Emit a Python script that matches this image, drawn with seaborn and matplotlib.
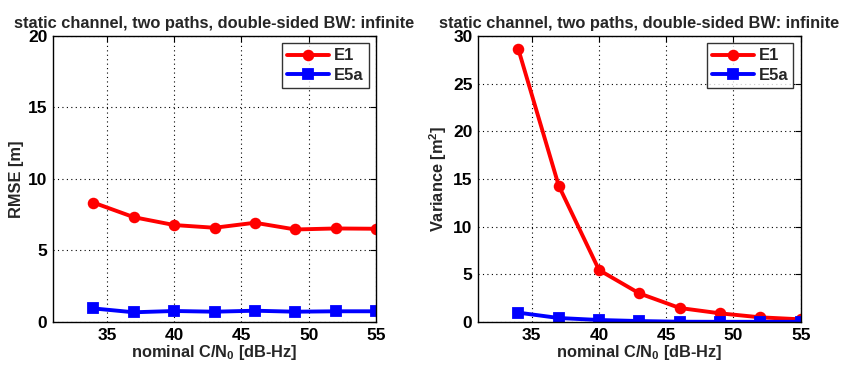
import matplotlib
matplotlib.use("Agg")
import matplotlib.pyplot as plt
import seaborn as sns
import pandas as pd

# Nominal carrier-to-noise density ratios [dB-Hz]
cn0 = [34, 37, 40, 43, 46, 49, 52, 55]

# RMSE of the code delay estimate [m]
rmse_e1 = [8.35, 7.33, 6.78, 6.59, 6.94, 6.47, 6.54, 6.52]
rmse_e5a = [0.95, 0.68, 0.77, 0.72, 0.79, 0.72, 0.75, 0.75]

# Variance of the estimate [m^2]
var_e1 = [28.6, 14.3, 5.45, 3.0, 1.47, 0.91, 0.49, 0.28]
var_e5a = [0.98, 0.42, 0.21, 0.10, 0.03, 0.02, 0.02, 0.02]

title = "static channel, two paths, double-sided BW: infinite"
xlabel = r"nominal C/N$_\mathbf{0}$ [dB-Hz]"

sns.set_theme(style="white")
plt.rcParams["font.family"] = ["Liberation Sans", "DejaVu Sans"]
plt.rcParams["font.weight"] = "bold"
plt.rcParams["mathtext.fontset"] = "custom"
plt.rcParams["mathtext.rm"] = "Liberation Sans:bold"
plt.rcParams["mathtext.bf"] = "Liberation Sans:bold"
plt.rcParams["mathtext.it"] = "Liberation Sans:bold"

rmse_df = pd.DataFrame({
    "cn0": cn0 * 2,
    "value": rmse_e1 + rmse_e5a,
    "signal": ["E1"] * len(cn0) + ["E5a"] * len(cn0),
})
var_df = pd.DataFrame({
    "cn0": cn0 * 2,
    "value": var_e1 + var_e5a,
    "signal": ["E1"] * len(cn0) + ["E5a"] * len(cn0),
})

fig = plt.figure(figsize=(8.44, 3.67), dpi=100)
ax1 = fig.add_axes([0.0628, 0.1226, 0.3827, 0.7794])
ax2 = fig.add_axes([0.5664, 0.1226, 0.3823, 0.7794])

palette = {"E1": "#ff0000", "E5a": "#0000ff"}
markers = {"E1": "o", "E5a": "s"}


def draw(ax, df, ylim, yticks, ylabel):
    sns.lineplot(data=df, x="cn0", y="value", hue="signal", style="signal",
                 palette=palette, markers=markers, dashes=False,
                 linewidth=2.8, markersize=7, markeredgewidth=1.3,
                 ax=ax)
    for line in ax.get_lines():
        line.set_markeredgecolor(line.get_color())
    ax.set_xlim(31, 55)
    ax.set_ylim(*ylim)
    ax.set_xticks([35, 40, 45, 50, 55])
    ax.set_yticks(yticks)
    ax.grid(True, color="black", linestyle=(0, (1, 3)), linewidth=0.8)
    for s in ax.spines.values():
        s.set_color("black")
        s.set_linewidth(1.0)
        s.set_visible(True)
    ax.tick_params(direction="in", length=4, width=0.8, top=True, right=True,
                   labelsize=12.5, pad=4, colors="black")
    for lbl in ax.get_xticklabels() + ax.get_yticklabels():
        lbl.set_fontweight("bold")
    ax.set_title(title, fontsize=11.8, fontweight="bold", pad=6)
    ax.set_xlabel(xlabel, fontsize=11.8, fontweight="bold", labelpad=0)
    ax.set_ylabel(ylabel, fontsize=11.8, fontweight="bold", labelpad=3)
    leg = ax.legend(loc="upper right", fontsize=12, frameon=True,
                    fancybox=False, edgecolor="black", handlelength=2.5,
                    borderpad=0.3, labelspacing=0.25, handletextpad=0.3,
                    borderaxespad=0.45)
    leg.get_frame().set_linewidth(1.0)
    for t in leg.get_texts():
        t.set_fontweight("bold")
    for h in leg.legend_handles:
        h.set_markeredgecolor(h.get_color())


draw(ax1, rmse_df, (0, 20), [0, 5, 10, 15, 20], "RMSE [m]")
draw(ax2, var_df, (0, 30), [0, 5, 10, 15, 20, 25, 30], r"Variance [m$^\mathbf{2}$]")

fig.savefig("out.png", dpi=100)
